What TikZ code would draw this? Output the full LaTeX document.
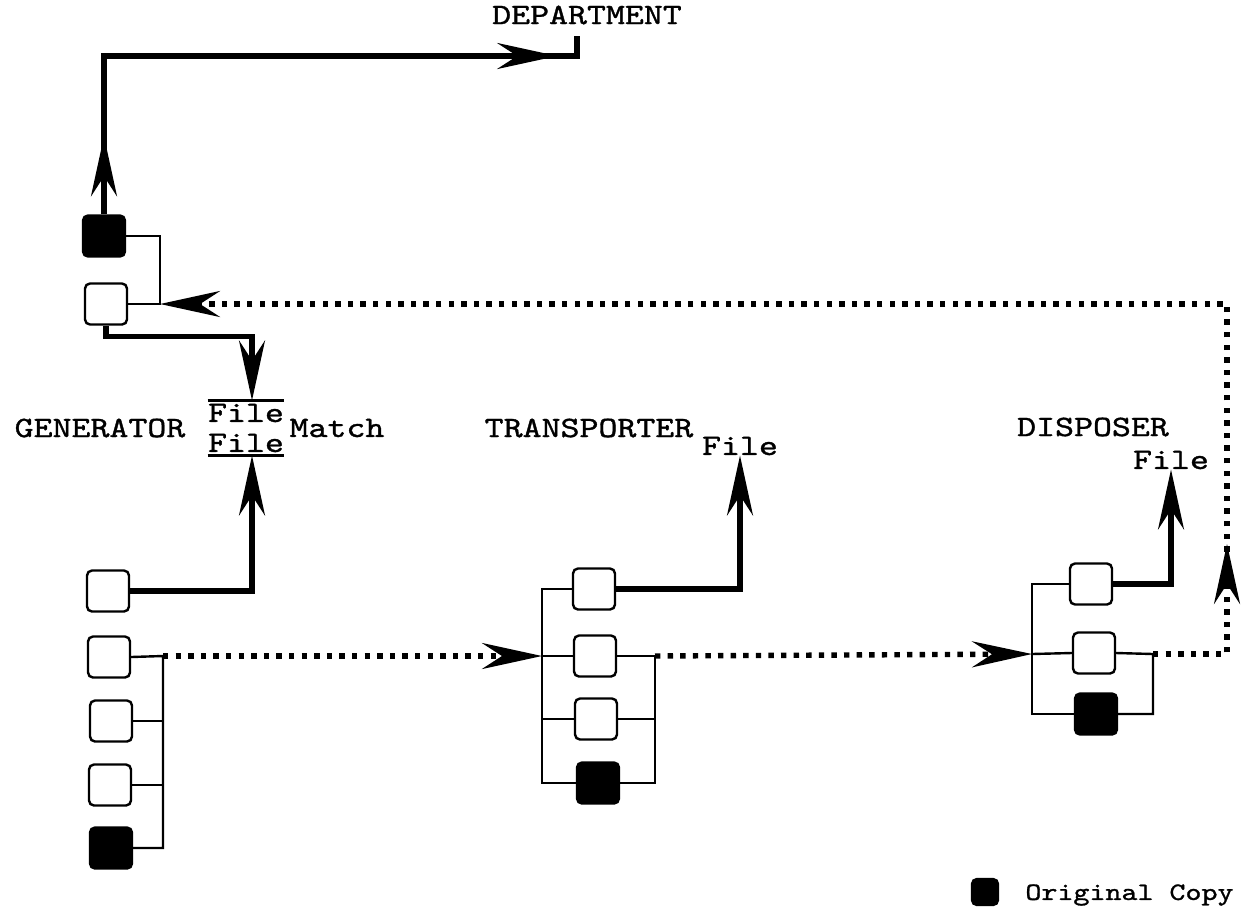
\documentclass[tikz,border=0pt]{standalone}
\usepackage{fontspec}
\usepackage{tikz}
\usetikzlibrary{arrows.meta,decorations.markings}
\newfontfamily\typer{lmmono10-regular}[Extension=.otf,FakeStretch=1.22,FakeBold=1.2]

\begin{document}
\begin{tikzpicture}[x=0.5pt,y=-0.5pt,>={Stealth[length=30pt,width=13pt,inset=10pt]},
  every node/.style={font=\typer\fontsize{14.8}{17}\selectfont,inner sep=0pt},
  copybox/.style={draw,line width=1.2pt,rounded corners=2.5pt,minimum width=21pt,minimum height=20.5pt,fill=white},
  original/.style={copybox,fill=black},
  heavy/.style={line width=2.6pt},
  link/.style={line width=1.2pt},
  dots/.style={line width=2.7pt,dash pattern=on 2.7pt off 3.6pt},
  tip at/.style={postaction={decorate},decoration={markings,mark=at position #1 with {\arrow{>}}}},
  two tips/.style 2 args={postaction={decorate},decoration={markings,
    mark=at position #1 with {\arrow{>}},mark=at position #2 with {\arrow{>}}}}]
  \useasboundingbox (0,0) rectangle (1241,917);

  % labels
  \node (dept) at (587,15) {DEPARTMENT};
  \node (gen) at (100,428) {GENERATOR};
  \node[inner ysep=1.5pt] (fileA) at (246,413) {File};
  \node[inner ysep=1.5pt] (fileB) at (246,443) {File};
  \node (match) at (337,428) {Match};
  \node (trans) at (589,428) {TRANSPORTER};
  \node (tfile) at (740,446) {File};
  \node (disp) at (1093,427) {DISPOSER};
  \node (dfile) at (1171,460) {File};
  \draw[link] (fileA.north west) -- (fileA.north east);
  \draw[link] (fileB.south west) -- (fileB.south east);

  % generator copies
  \node[original] (ga) at (104,236) {};
  \node[copybox] (gb) at (106,304) {};
  \node[copybox] (g1) at (108,591) {};
  \node[copybox] (g2) at (109,657) {};
  \node[copybox] (g3) at (111,721) {};
  \node[copybox] (g4) at (110,785) {};
  \node[original] (g5) at (111,848) {};
  % transporter copies
  \node[copybox] (t1) at (594,589) {};
  \node[copybox] (t2) at (595,656) {};
  \node[copybox] (t3) at (596,719) {};
  \node[original] (t4) at (598,783) {};
  % disposer copies
  \node[copybox] (d1) at (1091,584) {};
  \node[copybox] (d2) at (1094,653) {};
  \node[original] (d3) at (1096,714) {};

  \coordinate (deptend) at (577,56);
  \coordinate (gtbus) at (160,304);
  \coordinate (gbus) at (163,656);
  \coordinate (tin) at (542,656);
  \coordinate (tout) at (655,656);
  \coordinate (din) at (1032,654);
  \coordinate (dout) at (1153,654);
  \coordinate (corner) at (1227,654);

  % heavy flows
  \draw[heavy,two tips={39pt}{305.75pt}] (ga.north) |- (deptend) -- ++(0,-20);
  \draw[heavy,->] (gb.south) -- ++(0,11) -| ([xshift=3pt]fileA.north);
  \draw[heavy,->] (g1.east) -| ([xshift=3pt]fileB.south);
  \draw[heavy,->] (t1.east) -| (tfile.south);
  \draw[heavy,->] (d1.east) -| (dfile.south);

  % thin ties
  \draw[link] (ga.east) -| (gtbus) -- (gb.east);
  \draw[link] (g2.east) -- (gbus) |- (g5.east);
  \draw[link] (g3.east) -- (g3.east -| gbus);
  \draw[link] (g4.east) -- (g4.east -| gbus);
  \draw[link] (t1.west) -| (tin |- t4.west) -- (t4.west);
  \draw[link] (t2.west) -- (tin);
  \draw[link] (t3.west) -- (t3.west -| tin);
  \draw[link] (t2.east) -- (tout) |- (t4.east);
  \draw[link] (t3.east) -- (t3.east -| tout);
  \draw[link] (d1.west) -| (din |- d3.west) -- (d3.west);
  \draw[link] (d2.west) -- (din);
  \draw[link] (d2.east) -- (dout) |- (d3.east);

  % dotted flows
  \draw[dots,->] (gbus) -- (tin);
  \draw[dots,->] (tout) -- (din);
  \draw[dots,->,tip at=92pt] (dout) -- (corner) |- (gtbus);

  % key
  \node[original,minimum width=13pt,minimum height=13pt] (key) at (985,892) {};
  \node[anchor=west,font=\typer\fontsize{12.5}{15}\selectfont] (keytext) at (1025,895) {Original Copy};
\end{tikzpicture}
\end{document}
